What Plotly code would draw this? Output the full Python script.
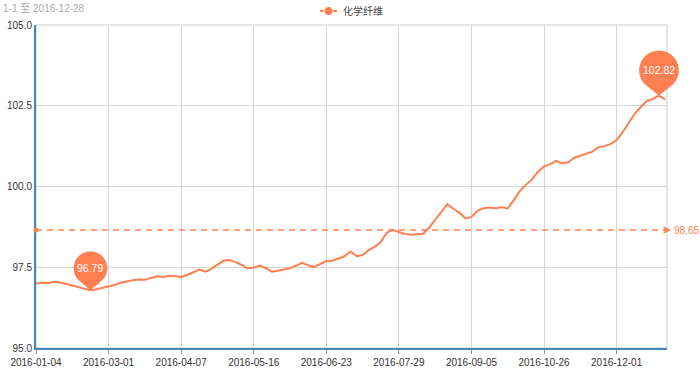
import math
import pandas as pd
import plotly.graph_objects as go

# ---------------- data ----------------
TICK_DATES = ["2016-01-04", "2016-03-01", "2016-04-07", "2016-05-16", "2016-06-23",
              "2016-07-29", "2016-09-05", "2016-10-26", "2016-12-01"]
END_DATE = "2016-12-28"
STEPS_PER_TICK = 12          # sampled points between labelled dates
LAST_STEPS = 8               # sampled points from 2016-12-01 to 2016-12-28

VALUES = [
    97.00, 97.03, 97.01, 97.05, 97.03, 96.99, 96.94, 96.89, 96.83, 96.79,
    96.82, 96.86, 96.90, 96.95, 97.02, 97.07, 97.10, 97.12, 97.11, 97.17,
    97.22, 97.20, 97.24, 97.22, 97.20, 97.26, 97.34, 97.43, 97.36, 97.45,
    97.58, 97.70, 97.72, 97.66, 97.57, 97.46, 97.49, 97.55, 97.47, 97.36,
    97.39, 97.43, 97.47, 97.55, 97.64, 97.56, 97.51, 97.60, 97.69, 97.70,
    97.78, 97.84, 97.99, 97.84, 97.88, 98.03, 98.13, 98.28, 98.57, 98.66,
    98.59, 98.53, 98.51, 98.52, 98.54, 98.73, 98.96, 99.20, 99.45, 99.31,
    99.19, 99.01, 99.06, 99.25, 99.33, 99.35, 99.33, 99.36, 99.32, 99.58,
    99.86, 100.05, 100.22, 100.46, 100.62, 100.69, 100.79, 100.71, 100.75, 100.89,
    100.95, 101.02, 101.08, 101.22, 101.25, 101.31, 101.44, 101.68, 101.98, 102.26,
    102.46, 102.65, 102.71, 102.82, 102.70,
]
AVERAGE = 98.65
SERIES_NAME = "化学纤维"
TITLE_TEXT = "1-1 至 2016-12-28"
Y_MIN, Y_MAX = 95.0, 105.0
Y_TICKS = [95.0, 97.5, 100.0, 102.5, 105.0]

# ---------------- categories ----------------
anchors = TICK_DATES + [END_DATE]
CATEGORIES = []
for i in range(len(anchors) - 1):
    n = STEPS_PER_TICK if i < len(anchors) - 2 else LAST_STEPS
    rng = pd.date_range(anchors[i], anchors[i + 1], periods=n + 1).normalize()
    CATEGORIES += [d.strftime("%Y-%m-%d") for d in rng[:-1]]
CATEGORIES.append(END_DATE)

CORAL = "#ff7f50"
AXIS_BLUE = "#4488bb"
GRID = "#d6d6d6"
FONT = "Liberation Sans, Arial, Noto Sans CJK SC, sans-serif"

W, H = 700, 370
ML, MR, MT, MB = 36, 33, 25, 22
PW = W - ML - MR
PH = H - MT - MB
N = len(CATEGORIES)
X_END = (N - 1) + 0.33


def pin_path(r, d, n=48):
    beta = math.acos(r / d)
    t0 = -math.pi / 2 + beta
    t1 = 3 * math.pi / 2 - beta
    pts = []
    for i in range(n + 1):
        t = t0 + (t1 - t0) * i / n
        pts.append((r * math.cos(t), d + r * math.sin(t)))
    return "M0,0 " + " ".join(f"L{x:.2f},{y:.2f}" for x, y in pts) + " Z"


fig = go.Figure()
fig.add_trace(go.Scatter(
    x=CATEGORIES, y=VALUES, mode="lines", name=SERIES_NAME,
    line=dict(color=CORAL, width=2), showlegend=False,
))

shapes = []
annotations = []

# plot border (top/right)
shapes.append(dict(type="rect", xref="paper", yref="paper", x0=0, x1=1, y0=0, y1=1,
                   line=dict(color="#cccccc", width=1), layer="below"))

# average mark line
shapes.append(dict(type="line", xref="paper", yref="y", x0=0, x1=1, y0=AVERAGE, y1=AVERAGE,
                   line=dict(color=CORAL, width=1.5, dash="6px,5px")))
shapes.append(dict(type="circle", xref="paper", yref="y", xsizemode="pixel", ysizemode="pixel",
                   xanchor=0, yanchor=AVERAGE, x0=-2.5, x1=2.5, y0=-2.5, y1=2.5,
                   fillcolor=CORAL, line=dict(width=0)))
shapes.append(dict(type="path", xref="paper", yref="y", xsizemode="pixel", ysizemode="pixel",
                   xanchor=1, yanchor=AVERAGE,
                   path="M4,0 L-4,4 L-2,0 L-4,-4 Z", fillcolor=CORAL, line=dict(width=0)))
annotations.append(dict(xref="paper", yref="y", x=1, y=AVERAGE, xanchor="left", yanchor="middle",
                        xshift=5, text=f"{AVERAGE:.2f}", showarrow=False,
                        font=dict(color=CORAL, size=10, family=FONT)))

# min / max pins (x in paper units of the category index so the pin is not clipped)
vmin = min(VALUES)
vmax = max(VALUES)
imin = VALUES.index(vmin)
imax = VALUES.index(vmax)
for idx, val, r, d, fs in [(imin, vmin, 16.8, 22.0, 10.5), (imax, vmax, 19.8, 25.0, 10.5)]:
    xp = idx / X_END
    shapes.append(dict(type="path", xref="paper", yref="y", xsizemode="pixel", ysizemode="pixel",
                       xanchor=xp, yanchor=val, path=pin_path(r, d),
                       fillcolor=CORAL, line=dict(width=0), layer="above"))
    annotations.append(dict(xref="x", yref="y", x=CATEGORIES[idx], y=val, yshift=d,
                            text=f"{val:.2f}", showarrow=False,
                            font=dict(color="white", size=fs, family=FONT)))

# manual legend
lx0 = (320 - ML) / PW
lx1 = (337 - ML) / PW
lxc = (328.5 - ML) / PW
ly = 1 + (MT - 11) / PH
shapes.append(dict(type="line", xref="paper", yref="paper", x0=lx0, x1=lx1, y0=ly, y1=ly,
                   line=dict(color=CORAL, width=2)))
shapes.append(dict(type="circle", xref="paper", yref="paper", xsizemode="pixel", ysizemode="pixel",
                   xanchor=lxc, yanchor=ly, x0=-4.5, x1=4.5, y0=-4.5, y1=4.5,
                   fillcolor=CORAL, line=dict(color="white", width=1)))
annotations.append(dict(xref="paper", yref="paper", x=(341 - ML) / PW, y=ly, xanchor="left",
                        yanchor="middle", text=SERIES_NAME, showarrow=False,
                        font=dict(color="#444444", size=10, family=FONT)))

# date range title at the top-left corner
annotations.append(dict(xref="paper", yref="paper", x=(1 - ML) / PW, y=1 + (MT - 8) / PH,
                        xanchor="left", yanchor="middle", text=TITLE_TEXT, showarrow=False,
                        font=dict(color="#aaaaaa", size=10, family=FONT)))

fig.update_layout(
    width=W, height=H,
    margin=dict(l=ML, r=MR, t=MT, b=MB, autoexpand=False),
    paper_bgcolor="white", plot_bgcolor="white",
    font=dict(family=FONT, size=10, color="#333333"),
    showlegend=False,
    shapes=shapes, annotations=annotations,
    xaxis=dict(type="category", range=[0, X_END], tickmode="linear", tick0=0, dtick=STEPS_PER_TICK,
               showgrid=True, gridcolor=GRID, gridwidth=1, automargin=False,
               showline=True, linecolor=AXIS_BLUE, linewidth=2,
               ticks="outside", ticklen=4, tickcolor="#999999",
               tickfont=dict(size=10, color="#333333"), zeroline=False, fixedrange=True),
    yaxis=dict(range=[Y_MIN, Y_MAX], tickmode="array", tickvals=Y_TICKS,
               ticktext=[f"{v:.1f}" for v in Y_TICKS], automargin=False,
               showgrid=True, gridcolor=GRID, gridwidth=1,
               showline=True, linecolor=AXIS_BLUE, linewidth=2, ticks="",
               tickfont=dict(size=10, color="#333333"), zeroline=False, fixedrange=True),
)

fig.write_html(
    "out.html",
    config={"displayModeBar": False},
    post_script="document.body.style.margin='0';document.body.style.overflow='hidden';",
)
